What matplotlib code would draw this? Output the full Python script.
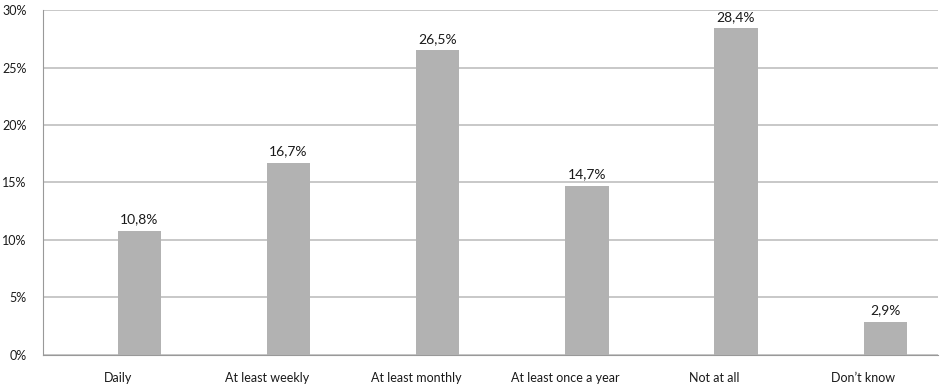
import numpy as np
import matplotlib.pyplot as plt
from matplotlib.ticker import FuncFormatter

# Data
categories = ["Daily", "At least weekly", "At least monthly",
              "At least once a year", "Not at all", "Don\u2019t know"]
values = [10.8, 16.7, 26.5, 14.7, 28.4, 2.9]
y_ticks = [0, 5, 10, 15, 20, 25, 30]

BAR_COLOR = "#b2b2b2"
GRID_COLOR = "#bfbfbf"
TEXT_COLOR = "#1a1a1a"

plt.rcParams['font.family'] = ['Lato', 'DejaVu Sans']

fig = plt.figure(figsize=(9.4, 3.85), dpi=100)
ax = fig.add_axes([0.046, 0.078, 0.952, 0.896])

x = np.arange(len(categories))
width = 0.29
# bars sit right of the category centre (empty first series in the original)
bars = ax.bar(x + width / 2, values, width=width, color=BAR_COLOR, zorder=3)

for rect, v in zip(bars, values):
  ax.annotate(f"{v:.1f}%".replace(".", ","),
              (rect.get_x() + rect.get_width() / 2, rect.get_height()),
              xytext=(0, 4), textcoords="offset points",
              ha="center", va="bottom", fontsize=10, color=TEXT_COLOR)

ax.set_xlim(-0.5, len(categories) - 0.5)
ax.set_ylim(0, 30)
ax.set_yticks(y_ticks)
ax.yaxis.set_major_formatter(FuncFormatter(lambda v, _: f"{v:.0f}%"))
ax.set_xticks(x)
ax.set_xticklabels(categories)

ax.grid(axis="y", color=GRID_COLOR, linewidth=1.2, zorder=0)
ax.tick_params(axis="both", length=0, labelsize=9, colors=TEXT_COLOR)
ax.tick_params(axis="y", pad=12)
ax.tick_params(axis="x", pad=12)

for side in ["top", "right"]:
  ax.spines[side].set_visible(False)
ax.spines["left"].set_color("#999999")
ax.spines["bottom"].set_color("#999999")

fig.savefig("out.png", dpi=100)
